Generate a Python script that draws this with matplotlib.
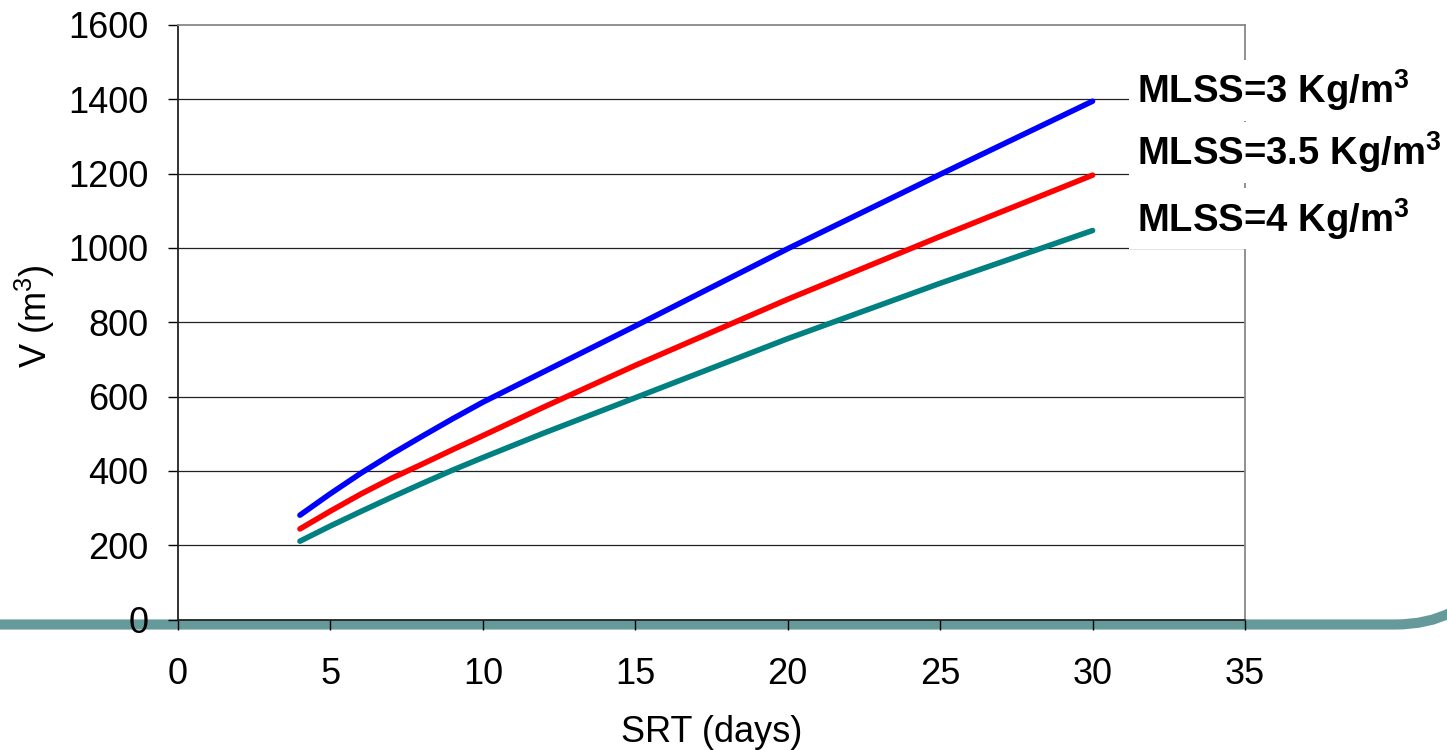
import matplotlib
matplotlib.use("Agg")
import matplotlib.pyplot as plt
from matplotlib.path import Path
from matplotlib.patches import PathPatch

plt.rcParams['font.family'] = ['Liberation Sans', 'DejaVu Sans']
plt.rcParams['mathtext.fontset'] = 'custom'
plt.rcParams['mathtext.rm'] = 'Liberation Sans'
plt.rcParams['mathtext.bf'] = 'Liberation Sans:bold'

# ---- data ----
srt = [4, 5, 6, 7, 8, 9, 10, 12, 15, 20, 25, 30]
v_mlss3 = [281, 339, 394, 445, 493, 540, 585, 667, 790, 998, 1198, 1395]
v_mlss35 = [244, 292, 338, 380, 418, 457, 495, 572, 684, 862, 1031, 1196]
v_mlss4 = [211, 252, 291, 329, 366, 402, 436, 502, 597, 756, 905, 1047]
series_labels = [r'MLSS=3 Kg/m$^{\mathbf{3}}$', r'MLSS=3.5 Kg/m$^{\mathbf{3}}$', r'MLSS=4 Kg/m$^{\mathbf{3}}$']
series_colors = ['#0000ff', '#ff0000', '#008080']
x_ticks = [0, 5, 10, 15, 20, 25, 30, 35]
y_ticks = [0, 200, 400, 600, 800, 1000, 1200, 1400, 1600]

W, H = 1447, 750
fig = plt.figure(figsize=(W / 100, H / 100), dpi=100)
fig.patch.set_facecolor('white')

L, R, T, B = 178, 1245, 25, 619.6
ax = fig.add_axes([L / W, 1 - B / H, (R - L) / W, (B - T) / H])
ax.set_zorder(1)

for vals, c in zip([v_mlss3, v_mlss35, v_mlss4], series_colors):
    ax.plot(srt, vals, color=c, lw=4.0, solid_capstyle='round',
            solid_joinstyle='round', zorder=3)

ax.set_xlim(0, 35)
ax.set_ylim(0, 1600)
ax.set_xticks(x_ticks)
ax.set_yticks(y_ticks)
ax.tick_params(axis='both', direction='out', length=7.2, width=1.0, color='black',
               labelsize=26)
ax.tick_params(axis='x', pad=20)
ax.tick_params(axis='y', pad=14)

for y in y_ticks[1:-1]:
    ax.axhline(y, color='#222222', lw=0.9, zorder=1)

ax.spines['left'].set_color('#222222')
ax.spines['bottom'].set_color('#222222')
ax.spines['top'].set_color('#888888')
ax.spines['right'].set_color('#888888')
for s in ax.spines.values():
    s.set_linewidth(1.3)

ax.set_xlabel('SRT (days)', fontsize=26, labelpad=16)
ax.set_ylabel(r'V (m$^3$)', fontsize=26)
ax.yaxis.set_label_coords(-0.113, 0.51)

baselines = [103.3, 165, 231.7]
for lab, yb in zip(series_labels, baselines):
    ax.text((1137 - L) / (R - L), (B - yb) / (B - T), lab, transform=ax.transAxes,
            fontsize=27.5, fontweight='bold', ha='left', va='baseline', clip_on=False,
            zorder=5,
            bbox=dict(boxstyle='square,pad=0.2', fc='white', ec='none'))

# decorative band along the bottom
bandc = '#669999'
verts = [(0, 624.5), (1395, 624.5), (1428, 624.5), (1452, 612)]
verts = [(x / W, 1 - y / H) for x, y in verts]
codes = [Path.MOVETO, Path.LINETO, Path.CURVE3, Path.CURVE3]
band = PathPatch(Path(verts, codes), fc='none', ec=bandc, lw=7.3,
                 transform=fig.transFigure, zorder=0.5, capstyle='butt')
fig.add_artist(band)

fig.savefig('out.png', dpi=100, facecolor='white')
